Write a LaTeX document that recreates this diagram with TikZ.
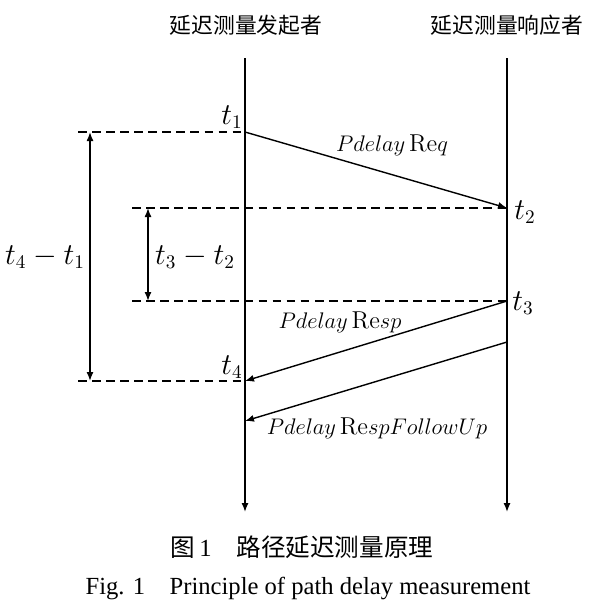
\documentclass[tikz,border=0pt]{standalone}
\usepackage{amsmath}
\usepackage{fontspec}
\newfontfamily\cjk{Noto Sans CJK SC}
\newfontfamily\capfont{Liberation Serif}
\usetikzlibrary{arrows.meta, positioning}

\begin{document}
\begin{tikzpicture}[
    life/.style={line width=0.8pt, -{Latex[length=1.8mm, width=1.4mm]}},
    msg/.style={line width=0.8pt, -{Latex[length=1.8mm, width=1.4mm]}},
    guide/.style={line width=0.8pt, dash pattern=on 5pt off 3pt},
    span/.style={line width=0.8pt, {Latex[length=1.8mm, width=1.4mm]}-{Latex[length=1.8mm, width=1.4mm]}},
    head/.style={font=\cjk\fontsize{12.4}{14}\selectfont, inner sep=1pt},
    tlabel/.style={font=\fontsize{16}{18}\selectfont, inner sep=1pt},
    dlabel/.style={font=\fontsize{16}{18}\selectfont, inner sep=1pt},
    mlabel/.style={font=\fontsize{13}{15}\selectfont, inner sep=1pt, scale=1.07, transform shape},
]
\useasboundingbox (0,0) rectangle (12.28,-12.14);

% lifelines and their titles
\node[head] (hinit) at (4.92, -0.50) {延迟测量发起者};
\node[head] (hresp) at (10.14, -0.50) {延迟测量响应者};
\coordinate (itop) at (4.90, -1.16);
\coordinate (ibot) at (4.90, -10.24);
\coordinate (rtop) at (10.14, -1.16);
\coordinate (rbot) at (10.14, -10.24);
\draw[life] (itop) -- (ibot);
\draw[life] (rtop) -- (rbot);

% time stamps on the lifelines
\coordinate (t1) at (4.90, -2.64);
\coordinate (t2) at (10.14, -4.16);
\coordinate (t3) at (10.14, -6.02);
\coordinate (t4) at (4.90, -7.62);
\coordinate (fs) at (10.14, -6.84);
\coordinate (fe) at (4.90, -8.42);
\node[tlabel] (lt1) at (4.64, -2.34) {$t_1$};
\node[tlabel] (lt2) at (10.50, -4.24) {$t_2$};
\node[tlabel] (lt3) at (10.46, -6.06) {$t_3$};
\node[tlabel] (lt4) at (4.64, -7.34) {$t_4$};

% dashed guides
\coordinate (g1) at (1.56, -2.64);
\coordinate (g2) at (2.64, -4.16);
\coordinate (g3) at (2.64, -6.02);
\coordinate (g4) at (1.56, -7.62);
\draw[guide] (g1) -- (t1);
\draw[guide] (g2) -- (t2);
\draw[guide] (g3) -- (t3);
\draw[guide] (g4) -- (t4);

% messages
\draw[msg] (t1) -- (t2);
\node[mlabel] (mreq) at (7.84, -2.90) {$Pdelay\,\mathrm{Re}q$};
\draw[msg] (t3) -- (t4);
\node[mlabel] (mresp) at (6.80, -6.44) {$Pdelay\,\mathrm{Re}sp$};
\draw[msg] (fs) -- (fe);
\node[mlabel] (mfol) at (7.54, -8.56) {$Pdelay\,\mathrm{Re}spFollowUp$};

% measured intervals
\coordinate (a1) at (1.80, -2.64);
\coordinate (a4) at (1.80, -7.62);
\coordinate (b2) at (2.96, -4.16);
\coordinate (b3) at (2.96, -6.02);
\draw[span] (a1) -- (a4);
\draw[span] (b2) -- (b3);
\node[dlabel] (d41) at (0.90, -5.14) {$t_4-t_1$};
\node[dlabel] (d32) at (3.90, -5.14) {$t_3-t_2$};

% caption
\node[font=\capfont\fontsize{14}{16}\selectfont] (cap1) at (6.04, -10.94)
    {{\cjk 图}\,1\quad{\cjk 路径延迟测量原理}};
\node[font=\capfont\fontsize{14}{16}\selectfont] (cap2) at (6.16, -11.76)
    {Fig. 1\quad Principle of path delay measurement};

\end{tikzpicture}
\end{document}
